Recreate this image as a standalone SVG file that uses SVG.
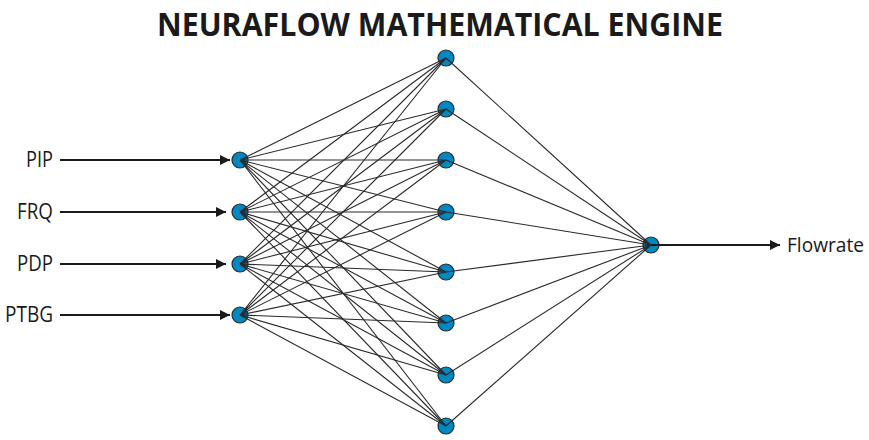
<svg xmlns="http://www.w3.org/2000/svg" width="869" height="440" viewBox="0 0 869 440">
<defs>
<style>
.title{font-family:"Open Sans","Liberation Sans",sans-serif;font-weight:700;font-size:33px;fill:#1a1a1a}
.lbl{font-family:"Open Sans","Liberation Sans",sans-serif;font-size:21px;fill:#1a1a1a}
.node{fill:#0088c2;stroke:#2a2a2a;stroke-width:1.2}
.w{stroke:#2a2a2a;stroke-width:1.1;fill:none}
.io{stroke:#1a1a1a;stroke-width:2;fill:none}
</style>
<marker id="ah" viewBox="0 0 10 10" refX="10" refY="5" markerWidth="5" markerHeight="5" markerUnits="strokeWidth" orient="auto">
<path d="M0,0 L10,5 L0,10 z" fill="#1a1a1a"/>
</marker>
</defs>
<rect width="869" height="440" fill="#fff"/>
<text class="title" x="440" y="35.5" text-anchor="middle" textLength="566" lengthAdjust="spacingAndGlyphs">NEURAFLOW MATHEMATICAL ENGINE</text>

<g id="in-PIP"><text class="lbl" x="53" y="167" text-anchor="end" textLength="27" lengthAdjust="spacingAndGlyphs">PIP</text><circle class="node" cx="240" cy="160" r="8"/></g>
<g id="in-FRQ"><text class="lbl" x="53" y="219" text-anchor="end" textLength="36" lengthAdjust="spacingAndGlyphs">FRQ</text><circle class="node" cx="240" cy="212" r="8"/></g>
<g id="in-PDP"><text class="lbl" x="53" y="271" text-anchor="end" textLength="36" lengthAdjust="spacingAndGlyphs">PDP</text><circle class="node" cx="240" cy="264" r="8"/></g>
<g id="in-PTBG"><text class="lbl" x="53" y="322" text-anchor="end" textLength="48" lengthAdjust="spacingAndGlyphs">PTBG</text><circle class="node" cx="240" cy="315" r="8"/></g>

<g id="h1"><circle class="node" cx="446" cy="58" r="8"/></g>
<g id="h2"><circle class="node" cx="446" cy="109" r="8"/></g>
<g id="h3"><circle class="node" cx="446" cy="160" r="8"/></g>
<g id="h4"><circle class="node" cx="446" cy="212" r="8"/></g>
<g id="h5"><circle class="node" cx="446" cy="272" r="8"/></g>
<g id="h6"><circle class="node" cx="446" cy="323" r="8"/></g>
<g id="h7"><circle class="node" cx="446" cy="375" r="8"/></g>
<g id="h8"><circle class="node" cx="446" cy="426" r="8"/></g>

<g id="out"><circle class="node" cx="651" cy="245" r="8"/><text class="lbl" x="787" y="252" style="font-size:19.5px" textLength="77" lengthAdjust="spacingAndGlyphs">Flowrate</text></g>

<g id="connectors">
<line class="io" x1="60" y1="160" x2="230" y2="160" marker-end="url(#ah)"/>
<line class="io" x1="60" y1="212" x2="226" y2="212" marker-end="url(#ah)"/>
<line class="io" x1="60" y1="264" x2="226" y2="264" marker-end="url(#ah)"/>
<line class="io" x1="60" y1="315" x2="230" y2="315" marker-end="url(#ah)"/>
<line class="io" x1="651" y1="245" x2="780" y2="245" marker-end="url(#ah)"/>
<path class="w" d="M240,160L446,58M240,160L446,109M240,160L446,160M240,160L446,212M240,160L446,272M240,160L446,323M240,160L446,375M240,160L446,426"/>
<path class="w" d="M240,212L446,58M240,212L446,109M240,212L446,160M240,212L446,212M240,212L446,272M240,212L446,323M240,212L446,375M240,212L446,426"/>
<path class="w" d="M240,264L446,58M240,264L446,109M240,264L446,160M240,264L446,212M240,264L446,272M240,264L446,323M240,264L446,375M240,264L446,426"/>
<path class="w" d="M240,315L446,58M240,315L446,109M240,315L446,160M240,315L446,212M240,315L446,272M240,315L446,323M240,315L446,375M240,315L446,426"/>
<path class="w" d="M446,58L651,245M446,109L651,245M446,160L651,245M446,212L651,245M446,272L651,245M446,323L651,245M446,375L651,245M446,426L651,245"/>
</g>
</svg>
